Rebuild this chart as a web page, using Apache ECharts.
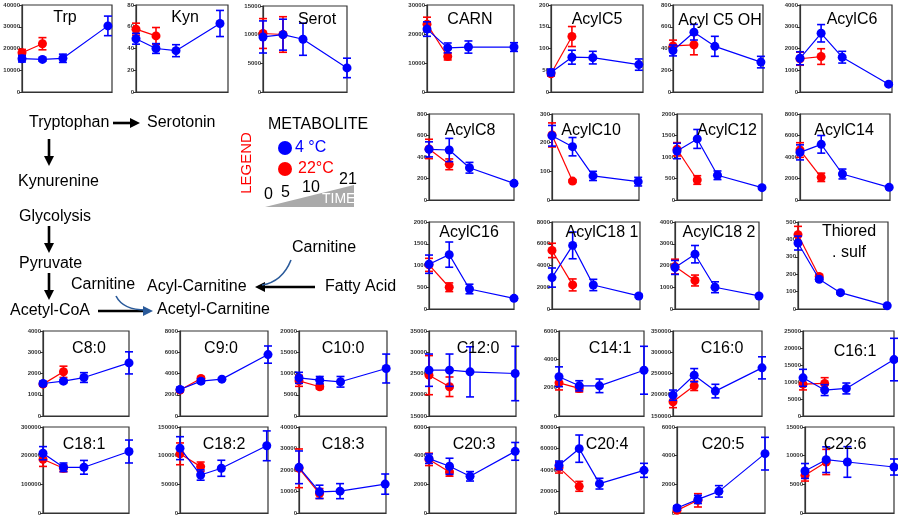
<!DOCTYPE html>
<html><head><meta charset="utf-8">
<script src="https://cdn.jsdelivr.net/npm/echarts@6/dist/echarts.min.js"></script>
<style>html,body{margin:0;padding:0;background:#fff}#c{width:898px;height:519px}</style>
</head><body><div id="c"></div>
<script>
// ---- DATA ----
const timesBlue = [0, 5, 10, 21];   // days, 4 °C
const timesRed = [0, 5];            // days, 22 °C
const names = ['Trp','Kyn','Serot','CARN','AcylC5','Acyl C5 OH','AcylC6','AcylC8','AcylC10','AcylC12','AcylC14','AcylC16','AcylC18 1','AcylC18 2','Thiored\n. sulf','C8:0','C9:0','C10:0','C12:0','C14:1','C16:0','C16:1','C18:1','C18:2','C18:3','C20:3','C20:4','C20:5','C22:6'];
const blueMean = [
 [15300,15000,15500,30400],[49,40,38,63],[9600,10000,9200,4200],[21700,15200,15500,15500],
 [45,80,79,63],[382,550,420,275],[1550,2700,1600,360],[471,465,300,155],
 [224,186,84,64],[1140,1420,575,287],[4430,5180,2420,1180],[1030,1250,460,245],
 [2890,5850,2210,1200],[1910,2520,1000,600],[379,171,94,19],
 [1530,1640,1810,2500],[2500,3280,3470,5780],[8980,8440,8050,11170],[25780,25780,25390,25000],
 [2770,2130,2130,3230],[199000,246000,208600,263300],[11230,7620,8100,16600],
 [208600,159400,159400,214500],[113100,66200,78000,117200],[21250,9840,10160,13440],
 [3790,3260,2560,4300],[44340,59840,27300,39700],[350,950,1510,4140],[7330,9300,8900,8020]
];
const blueErr = [
 [1500,800,1900,4500],[5,4.5,5.5,12],[2800,2700,2800,1700],[2500,1700,2100,1500],
 [7.5,16,14.5,13],[50,72,92,53],[300,400,270,60],[70,108,50,15],
 [36,32,16,15],[180,220,100,30],[700,820,460,120],[210,290,110,30],
 [880,1230,520,150],[320,400,250,60],[40,10,8,5],
 [100,80,230,520],[200,200,120,810],[1300,860,1250,3400],[3800,3800,5900,6400],
 [700,360,480,1690],[12000,15600,16000,26000],[2500,1600,1600,6250],
 [23000,15000,24000,40000],[20000,9000,14000,26000],[7600,3100,3500,4700],
 [330,560,330,620],[4000,12700,5000,6500],[150,290,400,1140],[1300,2240,2670,1400]
];
const redMean = [
 [18070,22200],[57.8,51.6],[10200,10030],[23400,12250],
 [42,127.5],[424,434],[1530,1630],[475,332],
 [227,66],[1180,465],[4650,2110],[1015,500],
 [5385,2215],[1950,1310],[427,187],
 [1500,2080],[2440,3530],[8280,6875],[24610,21880],
 [2340,1945],[183600,221000],[9375,9570],
 [187500,155900],[103200,80900],[20780,9060],
 [3740,2860],[42170,24800],[186,884],[6570,8900]
];
const redErr = [
 [1500,2800],[5.5,7.7],[2600,3100],[2400,1200],
 [5,23],[53,92],[300,360],[90,50],
 [42,5],[155,100],[680,390],[150,100],
 [660,550],[340,250],[48,10],
 [80,265],[150,150],[1300,500],[4600,2300],
 [500,250],[14000,11000],[1700,1700],
 [25000,12000],[19000,8000],[9000,2300],
 [430,290],[5000,4600],[100,465],[1000,2200]
];
const yMin = [0,0,0,0,0,0,0,0,0,0,0,0,0,0,0, 0,0,0,15000,0,150000,0, 0,0,0,0,0,0,0];
const yMax = [40000,80,15000,30000,200,800,4000,800,300,2000,8000,2000,8000,4000,500, 4000,8000,20000,35000,6000,350000,25000, 300000,150000,40000,6000,80000,6000,15000];
const yStep = [10000,20,5000,10000,50,200,1000,200,100,500,2000,500,2000,1000,100, 1000,2000,5000,5000,2000,50000,5000, 100000,50000,10000,2000,20000,2000,5000];

// ---- LAYOUT (left, top, width, height, xMax, titleX, titleY) ----
const layout = [
 [22,5,90,87,22,65,18],[136,5,92,87,23,185,18],[263,6,84,86,21,317,20],
 [427,5,87,87,21,470,20],[551,5,92,87,22,597,20],[673,5,90,87,21.5,720,21],[800,5,92,87,21.8,852,20],
 [429,114,85,86,21,470,131],[552,114,87,86,21.2,591,131],[677,114,85,86,21,727,131],[800,114,90,86,21.2,844,131],
 [429,222,85,87,21,469,233],[552,222,88,87,21.3,602,233],[675,222,84,87,21,719,233],[798,222,90,87,21.2,849,242],
 [43,331,86,85,21,89,349],[180,331,88,85,21,221,349],[299,331,88,85,21.2,343,349],[429,331,87,85,21.2,478,349],
 [559,331,85,85,21,610,349],[673,331,89,85,21,722,349],[803,331,91,85,21,855,352],
 [43,427,86,86,21,84,445],[180,427,88,86,21.3,224,445],[299,427,87,86,21.2,343,445],[429,427,87,86,21.2,474,445],
 [559,427,85,86,21,607,445],[677,427,88,86,21,723,445],[805,427,89,86,21,845,445]
];

const BLUE = '#0000ff', RED = '#ff0000', AX = '#333';
const FONT = '"Liberation Sans", Arial, sans-serif';
const grid = [], xAxis = [], yAxis = [], series = [], graphic = [];

function errSeries(i, times, mean, err, color, z) {
  return {
    type: 'custom', xAxisIndex: i, yAxisIndex: i, z: z, silent: true,
    data: times.map((t, j) => [t, mean[j] - err[j], mean[j] + err[j]]),
    encode: { x: 0, y: [1, 2] },
    renderItem: function (params, api) {
      const x = api.value(0);
      const p1 = api.coord([x, api.value(2)]);
      const p2 = api.coord([x, api.value(1)]);
      const hw = 4, st = { stroke: color, lineWidth: 1.6 };
      return { type: 'group', children: [
        { type: 'line', shape: { x1: p1[0], y1: p1[1], x2: p2[0], y2: p2[1] }, style: st },
        { type: 'line', shape: { x1: p1[0]-hw, y1: p1[1], x2: p1[0]+hw, y2: p1[1] }, style: st },
        { type: 'line', shape: { x1: p2[0]-hw, y1: p2[1], x2: p2[0]+hw, y2: p2[1] }, style: st }
      ]};
    }
  };
}

names.forEach((nm, i) => {
  const L = layout[i];
  grid.push({ left: L[0], top: L[1], width: L[2], height: L[3], show: true, borderColor: AX, borderWidth: 1.2, containLabel: false });
  xAxis.push({ gridIndex: i, type: 'value', min: 0, max: L[4],
    axisLine: { show: true, lineStyle: { color: AX, width: 1.2 } }, axisTick: { show: false },
    axisLabel: { show: false }, splitLine: { show: false } });
  yAxis.push({ gridIndex: i, type: 'value', min: yMin[i], max: yMax[i], interval: yStep[i],
    axisLine: { show: true, lineStyle: { color: AX, width: 1.2 } },
    axisTick: { show: true, length: 3, lineStyle: { color: AX } },
    axisLabel: { fontSize: 6, fontWeight: 'bold', color: AX, margin: 2, fontFamily: FONT, formatter: v => String(v) },
    splitLine: { show: false } });
  series.push(errSeries(i, timesRed, redMean[i], redErr[i], RED, 2));
  series.push({ type: 'line', xAxisIndex: i, yAxisIndex: i, z: 3, silent: true,
    data: timesRed.map((t, j) => [t, redMean[i][j]]), symbol: 'circle', symbolSize: 9,
    itemStyle: { color: RED }, lineStyle: { color: RED, width: 1.2 } });
  series.push(errSeries(i, timesBlue, blueMean[i], blueErr[i], BLUE, 4));
  series.push({ type: 'line', xAxisIndex: i, yAxisIndex: i, z: 5, silent: true,
    data: timesBlue.map((t, j) => [t, blueMean[i][j]]), symbol: 'circle', symbolSize: 9,
    itemStyle: { color: BLUE }, lineStyle: { color: BLUE, width: 1.2 } });
  graphic.push({ type: 'text', z: 10, style: { text: nm, x: L[5], y: L[6], align: 'center', verticalAlign: 'middle',
    fill: '#000', font: '16px ' + FONT, lineHeight: 21 } });
});

// ---- Pathway diagram ----
function txt(t, x, y, fill, size, extra) {
  graphic.push(Object.assign({ type: 'text', style: { text: t, x: x, y: y, fill: fill || '#000',
    font: (size || 16) + 'px ' + FONT, align: 'left', verticalAlign: 'middle' } }, extra || {}));
}
function hArrow(x1, x2, y, col, headCol) {
  const dir = x2 > x1 ? 1 : -1;
  graphic.push({ type: 'line', shape: { x1: x1, y1: y, x2: x2 - dir * 8, y2: y }, style: { stroke: col, lineWidth: 2.6 } });
  graphic.push({ type: 'polygon', shape: { points: [[x2 - dir * 10, y - 5], [x2, y], [x2 - dir * 10, y + 5]] }, style: { fill: headCol || col } });
}
function vArrow(x, y1, y2) {
  graphic.push({ type: 'line', shape: { x1: x, y1: y1, x2: x, y2: y2 - 8 }, style: { stroke: '#000', lineWidth: 2.6 } });
  graphic.push({ type: 'polygon', shape: { points: [[x - 5, y2 - 10], [x, y2], [x + 5, y2 - 10]] }, style: { fill: '#000' } });
}
txt('Tryptophan', 29, 123);
hArrow(113, 140, 123, '#000');
txt('Serotonin', 147, 123);
vArrow(49, 139, 166);
txt('Kynurenine', 18, 182);
txt('Glycolysis', 19, 217);
vArrow(49, 226, 253);
txt('Pyruvate', 19, 264);
vArrow(49, 273, 300);
txt('Acetyl-CoA', 10, 311);
hArrow(98, 153, 311, '#000', '#2a5a9a');
txt('Carnitine', 71, 285);
graphic.push({ type: 'bezierCurve', shape: { x1: 116, y1: 296, cpx1: 122, cpy1: 308, cpx2: 135, cpy2: 310, x2: 146, y2: 310 },
  style: { stroke: '#2a5a9a', lineWidth: 1.6, fill: 'none' } });
txt('Acyl-Carnitine', 147, 287);
txt('Acetyl-Carnitine', 157, 310);
txt('Carnitine', 292, 248);
txt('Fatty Acid', 325, 287);
hArrow(315, 255, 287, '#000');
graphic.push({ type: 'bezierCurve', shape: { x1: 291, y1: 260, cpx1: 285, cpy1: 275, cpx2: 275, cpy2: 283, x2: 262, y2: 285 },
  style: { stroke: '#2a5a9a', lineWidth: 1.6, fill: 'none' } });

// ---- Legend ----
graphic.push({ type: 'text', x: 247, y: 163, rotation: Math.PI / 2,
  style: { text: 'LEGEND', x: 0, y: 0, fill: RED, font: '15px ' + FONT, align: 'center', verticalAlign: 'middle' } });
txt('METABOLITE', 268, 125);
graphic.push({ type: 'circle', shape: { cx: 285, cy: 148, r: 7 }, style: { fill: BLUE } });
txt('4 °C', 295, 148, BLUE);
graphic.push({ type: 'circle', shape: { cx: 285, cy: 169, r: 7 }, style: { fill: RED } });
txt('22°C', 298, 169, RED);
graphic.push({ type: 'polygon', shape: { points: [[265, 207], [354, 207], [354, 185]] }, style: { fill: '#aaaaaa' } });
txt('TIME', 322, 199, '#fff', 14);
txt('0', 264, 195);
txt('5', 281, 193);
txt('10', 302, 188);
txt('21', 339, 180);

const chart = echarts.init(document.getElementById('c'), null, { renderer: 'canvas' });
chart.setOption({ animation: false, backgroundColor: '#fff', grid, xAxis, yAxis, series, graphic });
</script></body></html>
